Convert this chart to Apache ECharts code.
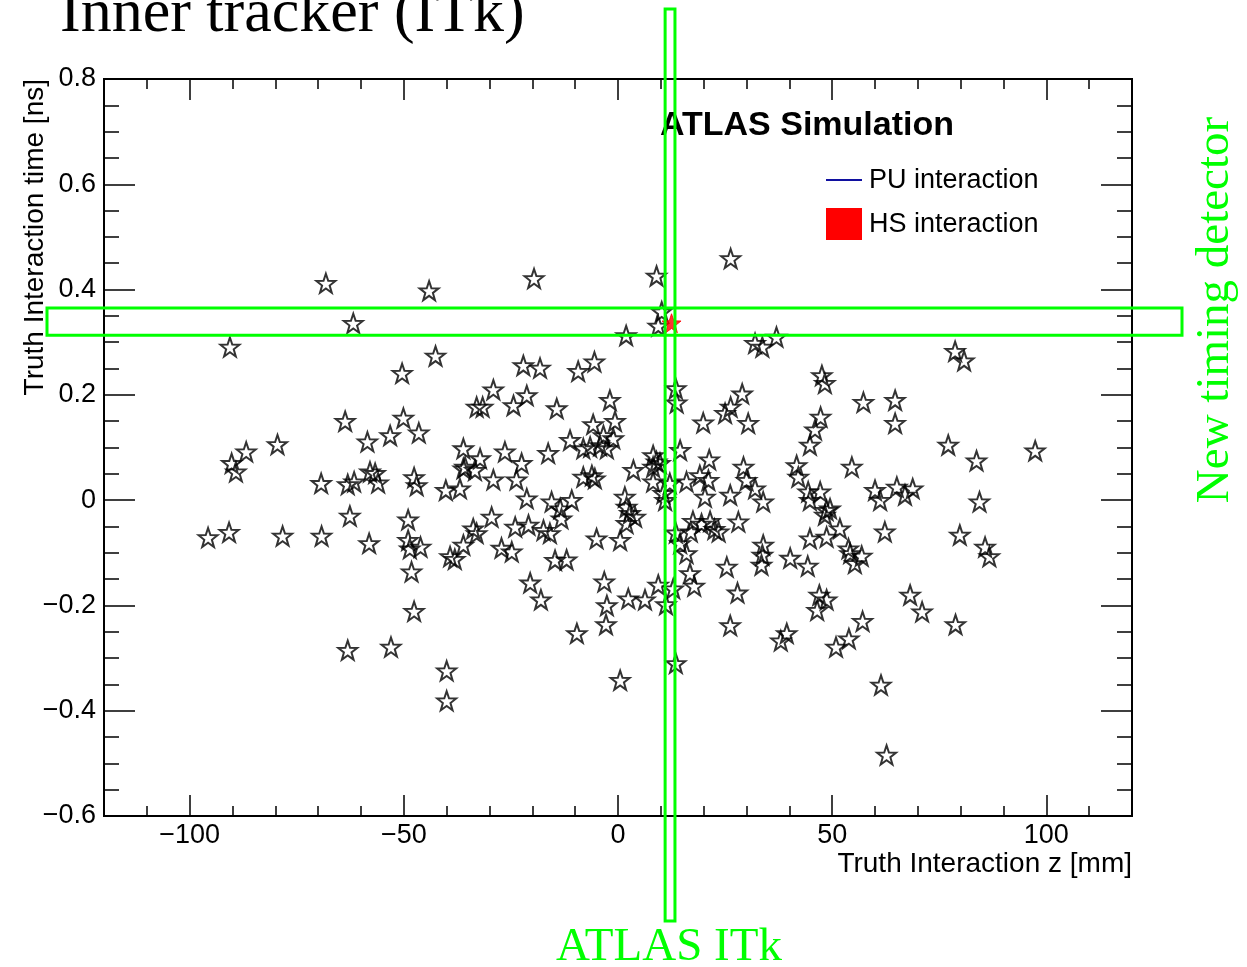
<!DOCTYPE html>
<html><head><meta charset="utf-8">
<script src="https://cdn.jsdelivr.net/npm/echarts@6/dist/echarts.min.js"></script>
<style>html,body{margin:0;padding:0;background:#fff}#c{width:1247px;height:967px}</style>
</head><body><div id="c"></div>
<script>
// Pile-up (PU) interactions: z [mm] and time [ns]
const zPU = [-68.2,-44.1,-61.8,-90.6,-42.6,-50.4,-63.7,-50.1,-46.5,-53.2,
-19.6,9.0,26.3,10.2,9.4,1.9,-22.1,-18.2,-9.3,-5.5,
-29.1,-21.3,-24.4,-33.0,-31.6,-14.3,-1.9,-0.7,-5.8,13.5,
13.7,19.9,25.0,26.3,29.0,32.0,33.7,37.0,78.7,80.8,
47.6,48.3,57.3,64.7,30.4,47.3,46.0,64.7,-58.5,-79.5,
-86.8,-90.2,-89.2,-69.3,-63.1,-61.6,-57.9,-56.7,-56.0,-47.6,
-47.0,-40.2,-36.9,-36.1,-36.1,-62.6,-49.0,-95.7,-90.8,-78.3,
-69.2,-58.1,-49.0,-48.6,-46.1,-39.2,-38.1,-36.1,-32.2,-35.7,
-33.4,-26.4,-22.5,-29.1,-23.7,-16.3,-11.2,-8.1,-6.5,-4.2,
-2.6,-1.1,-3.4,-8.1,-6.1,-5.4,3.6,8.2,9.0,9.8,
8.2,8.2,12.1,10.6,11.0,14.5,16.0,19.1,21.3,21.1,
20.3,26.2,29.3,-21.3,-15.5,-13.5,-10.8,-13.2,-29.5,-24.0,
-20.9,-33.8,-33.0,-27.2,-24.8,-17.4,-15.9,-5.0,0.5,1.6,
2.0,2.8,4.0,2.0,17.5,19.5,21.5,22.5,23.5,17.0,
13.5,14.5,16.0,28.1,44.8,77.1,83.7,97.4,30.0,32.0,
33.9,41.7,42.1,54.6,44.4,44.8,47.2,48.7,49.5,48.3,
60.0,61.2,65.1,67.0,68.8,84.4,44.8,48.7,51.8,62.3,
79.8,33.9,33.7,40.2,53.8,54.2,56.9,85.7,86.7,33.5,
44.3,55.3,27.9,26.2,47.0,48.7,46.5,68.2,71.0,78.8,
57.1,39.4,38.0,53.9,50.9,61.4,62.7,-14.7,-12.0,-20.5,
-18.0,-3.2,-2.6,-2.8,-9.6,0.5,2.4,6.3,9.4,12.9,
11.2,16.8,17.8,13.5,25.4,-48.2,-47.6,-63.1,-53.0,-40.0,-40.0];
const tPU = [0.412,0.398,0.336,0.291,0.274,0.241,0.150,0.156,0.128,0.123,
0.421,0.426,0.459,0.358,0.331,0.313,0.256,0.251,0.245,0.263,
0.210,0.199,0.180,0.177,0.177,0.174,0.190,0.150,0.144,0.212,
0.185,0.147,0.165,0.177,0.202,0.298,0.291,0.310,0.283,0.265,
0.237,0.222,0.186,0.190,0.146,0.158,0.134,0.146,0.111,0.106,
0.092,0.070,0.054,0.032,0.030,0.035,0.054,0.051,0.033,0.043,
0.028,0.019,0.022,0.098,0.060,-0.030,-0.037,-0.071,-0.061,-0.068,
-0.068,-0.082,-0.076,-0.092,-0.089,-0.107,-0.112,-0.085,0.079,0.063,
0.057,0.092,0.070,0.039,0.039,0.089,0.114,0.098,0.101,0.104,
0.098,0.117,0.123,0.044,0.047,0.041,0.057,0.085,0.073,0.070,
0.063,0.035,0.032,0.013,0.000,0.095,0.035,0.047,0.077,0.038,
0.006,0.010,0.063,0.003,-0.003,-0.016,0.000,-0.035,-0.032,-0.051,
-0.047,-0.054,-0.063,-0.091,-0.098,-0.057,-0.063,-0.073,-0.076,0.006,
-0.013,-0.025,-0.032,-0.044,-0.040,-0.045,-0.040,-0.055,-0.060,-0.060,
-0.062,-0.082,-0.101,-0.041,0.105,0.105,0.075,0.094,0.038,0.022,
-0.003,0.066,0.044,0.063,0.016,0.000,0.016,-0.019,-0.016,-0.028,
0.019,0.000,0.025,0.010,0.022,-0.003,-0.073,-0.070,-0.054,-0.060,
-0.066,-0.085,-0.104,-0.110,-0.092,-0.101,-0.106,-0.089,-0.107,-0.123,
-0.125,-0.120,-0.176,-0.238,-0.180,-0.189,-0.209,-0.180,-0.212,-0.236,
-0.230,-0.253,-0.267,-0.263,-0.279,-0.351,-0.484,-0.114,-0.113,-0.157,
-0.189,-0.155,-0.200,-0.236,-0.253,-0.342,-0.187,-0.189,-0.161,-0.168,
-0.198,-0.139,-0.163,-0.310,-0.127,-0.136,-0.211,-0.285,-0.279,-0.324,-0.381];
// Hard-scatter (HS) interaction
const zHS = [12.5];
const tHS = [0.336];
// Axes
const xMajorTicks = [-100, -50, 0, 50, 100];
const yTickStep = 0.2;
// Annotation bands (data units)
const itkBandZ = [11.0, 13.3];
const timingBandT = [0.313, 0.365];

const STAR = 'path://M0,-10L2.35,-3.24L9.51,-3.09L3.8,1.24L5.88,8.09L0,4L-5.88,8.09L-3.8,1.24L-9.51,-3.09L-2.35,-3.24Z';
const FONT = 'Liberation Sans';
const SERIF = 'Liberation Serif';
const GREEN = '#00ff00';

function fmtNum(v){
  if (Math.abs(v) < 1e-9) return '0';
  const s = Number.isInteger(Math.round(v*1000)/1000) ? String(Math.abs(Math.round(v))) : Math.abs(v).toFixed(1);
  return (v < 0 ? '\u2212' : '') + s;
}

const chart = echarts.init(document.getElementById('c'), null, {renderer:'canvas'});
const pu = zPU.map((z,i)=>[z,tPU[i]]);
const hs = zHS.map((z,i)=>[z,tHS[i]]);

const tickStyle = {color:'#000', width:1.5};
function xAxisDef(pos, major, labels){
  return {
    type:'value', min:-120, max:120, position:pos,
    interval: major ? undefined : 10,
    axisLine:{show:!major, onZero:false, lineStyle:{color:'#000', width:2}},
    axisTick: major ? {show:true, inside:true, length:21, customValues:xMajorTicks, lineStyle:tickStyle}
                    : {show:true, inside:true, length:10, lineStyle:tickStyle},
    axisLabel: labels ? {show:true, customValues:xMajorTicks, formatter:fmtNum, color:'#000', fontFamily:FONT, fontSize:27, margin:6}
                      : {show:false},
    splitLine:{show:false},
    name: labels ? 'Truth Interaction z [mm]' : '',
    nameLocation:'end', nameGap:0,
    nameTextStyle:{color:'#000', fontFamily:FONT, fontSize:28, align:'right', verticalAlign:'top', padding:[34,0,0,0]}
  };
}
function yAxisDef(pos, labels){
  return {
    type:'value', min:-0.6, max:0.8, interval:yTickStep, position:pos,
    axisLine:{show:true, onZero:false, lineStyle:{color:'#000', width:2}},
    axisTick:{show:true, inside:true, length:31, lineStyle:tickStyle},
    minorTick:{show:true, splitNumber:4, length:15, lineStyle:tickStyle},
    axisLabel: labels ? {show:true, formatter:fmtNum, color:'#000', fontFamily:FONT, fontSize:27, margin:8} : {show:false},
    splitLine:{show:false}, minorSplitLine:{show:false},
    name: labels ? 'Truth Interaction time [ns]' : '',
    nameLocation:'end', nameGap:0, nameRotate:90,
    nameTextStyle:{color:'#000', fontFamily:FONT, fontSize:28, align:'right', verticalAlign:'bottom', padding:[0,0,55,0]}
  };
}

chart.setOption({
  animation:false,
  backgroundColor:'#fff',
  grid:{left:104, right:115, top:79, bottom:151, show:true, borderColor:'#000', borderWidth:2, backgroundColor:'#fff'},
  xAxis:[xAxisDef('bottom', false, false), xAxisDef('bottom', true, true), xAxisDef('top', false, false), xAxisDef('top', true, false)],
  yAxis:[yAxisDef('left', true), yAxisDef('right', false)],
  series:[
    {name:'PU interaction', type:'scatter', xAxisIndex:0, yAxisIndex:0, data:pu, symbol:STAR, symbolSize:19,
     itemStyle:{color:'rgba(0,0,0,0)', borderColor:'#000', borderWidth:2}, silent:true, z:3},
    {name:'HS interaction', type:'scatter', xAxisIndex:0, yAxisIndex:0, data:hs, symbol:STAR, symbolSize:19,
     itemStyle:{color:'#ff0000', borderColor:'#ff0000', borderWidth:1}, silent:true, z:4}
  ]
});

const x1 = chart.convertToPixel({xAxisIndex:0}, itkBandZ[0]);
const x2 = chart.convertToPixel({xAxisIndex:0}, itkBandZ[1]);
const y1 = chart.convertToPixel({yAxisIndex:0}, timingBandT[1]);
const y2 = chart.convertToPixel({yAxisIndex:0}, timingBandT[0]);

chart.setOption({
  graphic:[
    {type:'text', left:60, top:-16, style:{text:'Inner tracker (ITk)', font:'62px "'+SERIF+'"', fill:'#000'}},
    {type:'text', left:660, top:109, style:{text:'ATLAS Simulation', font:'bold 34px "'+FONT+'"', fill:'#000'}},
    {type:'line', shape:{x1:826, y1:180, x2:862, y2:180}, style:{stroke:'#1010a0', lineWidth:2}},
    {type:'text', left:869, top:167, style:{text:'PU interaction', font:'27px "'+FONT+'"', fill:'#000'}},
    {type:'rect', shape:{x:826, y:208, width:36, height:32}, style:{fill:'#ff0000'}},
    {type:'text', left:869, top:211, style:{text:'HS interaction', font:'27px "'+FONT+'"', fill:'#000'}},
    {type:'rect', z:100, shape:{x:x1, y:9, width:x2-x1, height:912}, style:{fill:'none', stroke:GREEN, lineWidth:3}},
    {type:'rect', z:100, shape:{x:47, y:y1, width:1135, height:y2-y1}, style:{fill:'none', stroke:GREEN, lineWidth:3}},
    {type:'text', z:100, x:669, y:948, style:{text:'ATLAS ITk', font:'47px "'+SERIF+'"', fill:GREEN, align:'center', verticalAlign:'middle'}},
    {type:'text', z:100, x:1216, y:310, rotation:Math.PI/2, style:{text:'New timing detector', font:'47px "'+SERIF+'"', fill:GREEN, align:'center', verticalAlign:'middle'}}
  ]
});
</script></body></html>
